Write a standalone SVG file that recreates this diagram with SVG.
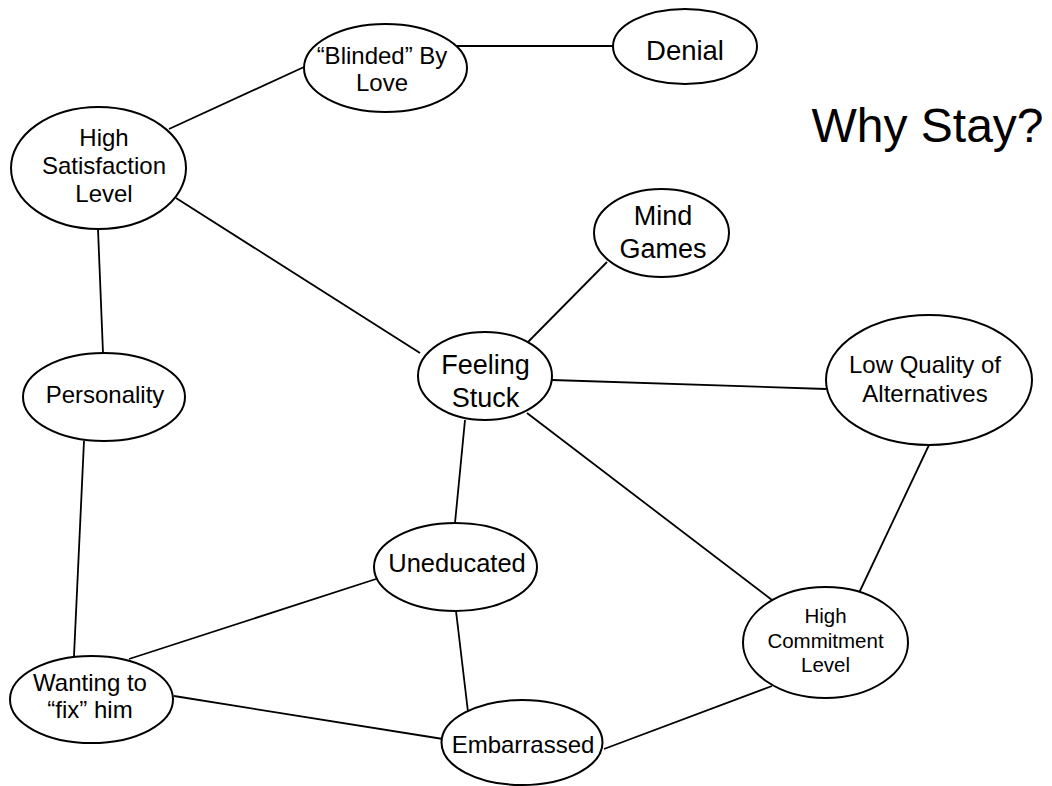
<svg xmlns="http://www.w3.org/2000/svg" width="1052" height="786" viewBox="0 0 1052 786">
<style>
.n ellipse{fill:#fff;stroke:#000;stroke-width:2}
.e line{stroke:#000;stroke-width:1.8}
text{font-family:"Liberation Sans",Arial,sans-serif;fill:#000;text-anchor:middle}
.t24{font-size:24px}
.t27{font-size:27px}
.t20{font-size:20.5px}
</style>
<rect width="1052" height="786" fill="#fff"/>
<g id="connectors" class="e">
<line x1="449" y1="46" x2="613" y2="46"/>
<line x1="169" y1="129" x2="304" y2="67"/>
<line x1="176" y1="198" x2="420" y2="353"/>
<line x1="98" y1="229" x2="103" y2="353"/>
<line x1="84" y1="441" x2="74" y2="656"/>
<line x1="607" y1="262" x2="528" y2="342"/>
<line x1="552" y1="380" x2="826" y2="389"/>
<line x1="527" y1="413" x2="772" y2="600"/>
<line x1="465" y1="420" x2="455" y2="523"/>
<line x1="929" y1="445" x2="859" y2="593"/>
<line x1="376" y1="579" x2="129" y2="659"/>
<line x1="456" y1="611" x2="468" y2="712"/>
<line x1="174" y1="696" x2="443" y2="739"/>
<line x1="604" y1="749" x2="772" y2="686"/>
</g>
<g id="blinded" class="n"><ellipse cx="385.5" cy="68" rx="81.5" ry="44"/><text class="t24" x="382" y="64">“Blinded” By</text><text class="t24" x="382" y="91">Love</text></g>
<g id="denial" class="n"><ellipse cx="685" cy="46.5" rx="72" ry="37.5"/><text x="685" y="60" style="font-size:27.5px">Denial</text></g>
<g id="highsat" class="n"><ellipse cx="98.5" cy="168" rx="87.5" ry="61"/><text class="t24" x="104" y="146">High</text><text class="t24" x="104" y="174">Satisfaction</text><text class="t24" x="104" y="202">Level</text></g>
<g id="mindgames" class="n"><ellipse cx="661.5" cy="233" rx="67.5" ry="44"/><text class="t27" x="663" y="225">Mind</text><text class="t27" x="663" y="258">Games</text></g>
<g id="feelingstuck" class="n"><ellipse cx="485" cy="376" rx="67" ry="44"/><text class="t27" x="485.5" y="374">Feeling</text><text class="t27" x="485.5" y="407">Stuck</text></g>
<g id="lowquality" class="n"><ellipse cx="929" cy="380" rx="103" ry="65"/><text class="t24" x="925" y="373">Low Quality of</text><text class="t24" x="925" y="402">Alternatives</text></g>
<g id="personality" class="n"><ellipse cx="104" cy="397" rx="81" ry="44"/><text class="t24" x="105" y="403">Personality</text></g>
<g id="uneducated" class="n"><ellipse cx="455.5" cy="567" rx="81.5" ry="44"/><text x="457" y="572" style="font-size:25.5px">Uneducated</text></g>
<g id="highcommit" class="n"><ellipse cx="825.5" cy="642.5" rx="82.5" ry="55.5"/><text class="t20" x="825.5" y="623">High</text><text class="t20" x="825.5" y="648">Commitment</text><text class="t20" x="825.5" y="672">Level</text></g>
<g id="wanting" class="n"><ellipse cx="91.5" cy="699.5" rx="81.5" ry="43.5"/><text class="t24" x="90" y="691">Wanting to</text><text class="t24" x="90" y="718">“fix” him</text></g>
<g id="embarrassed" class="n"><ellipse cx="522" cy="742.5" rx="80.5" ry="42.5"/><text class="t24" x="523" y="753">Embarrassed</text></g>
<g id="title"><text x="927.5" y="142" style="font-size:48px">Why Stay?</text></g>
</svg>
